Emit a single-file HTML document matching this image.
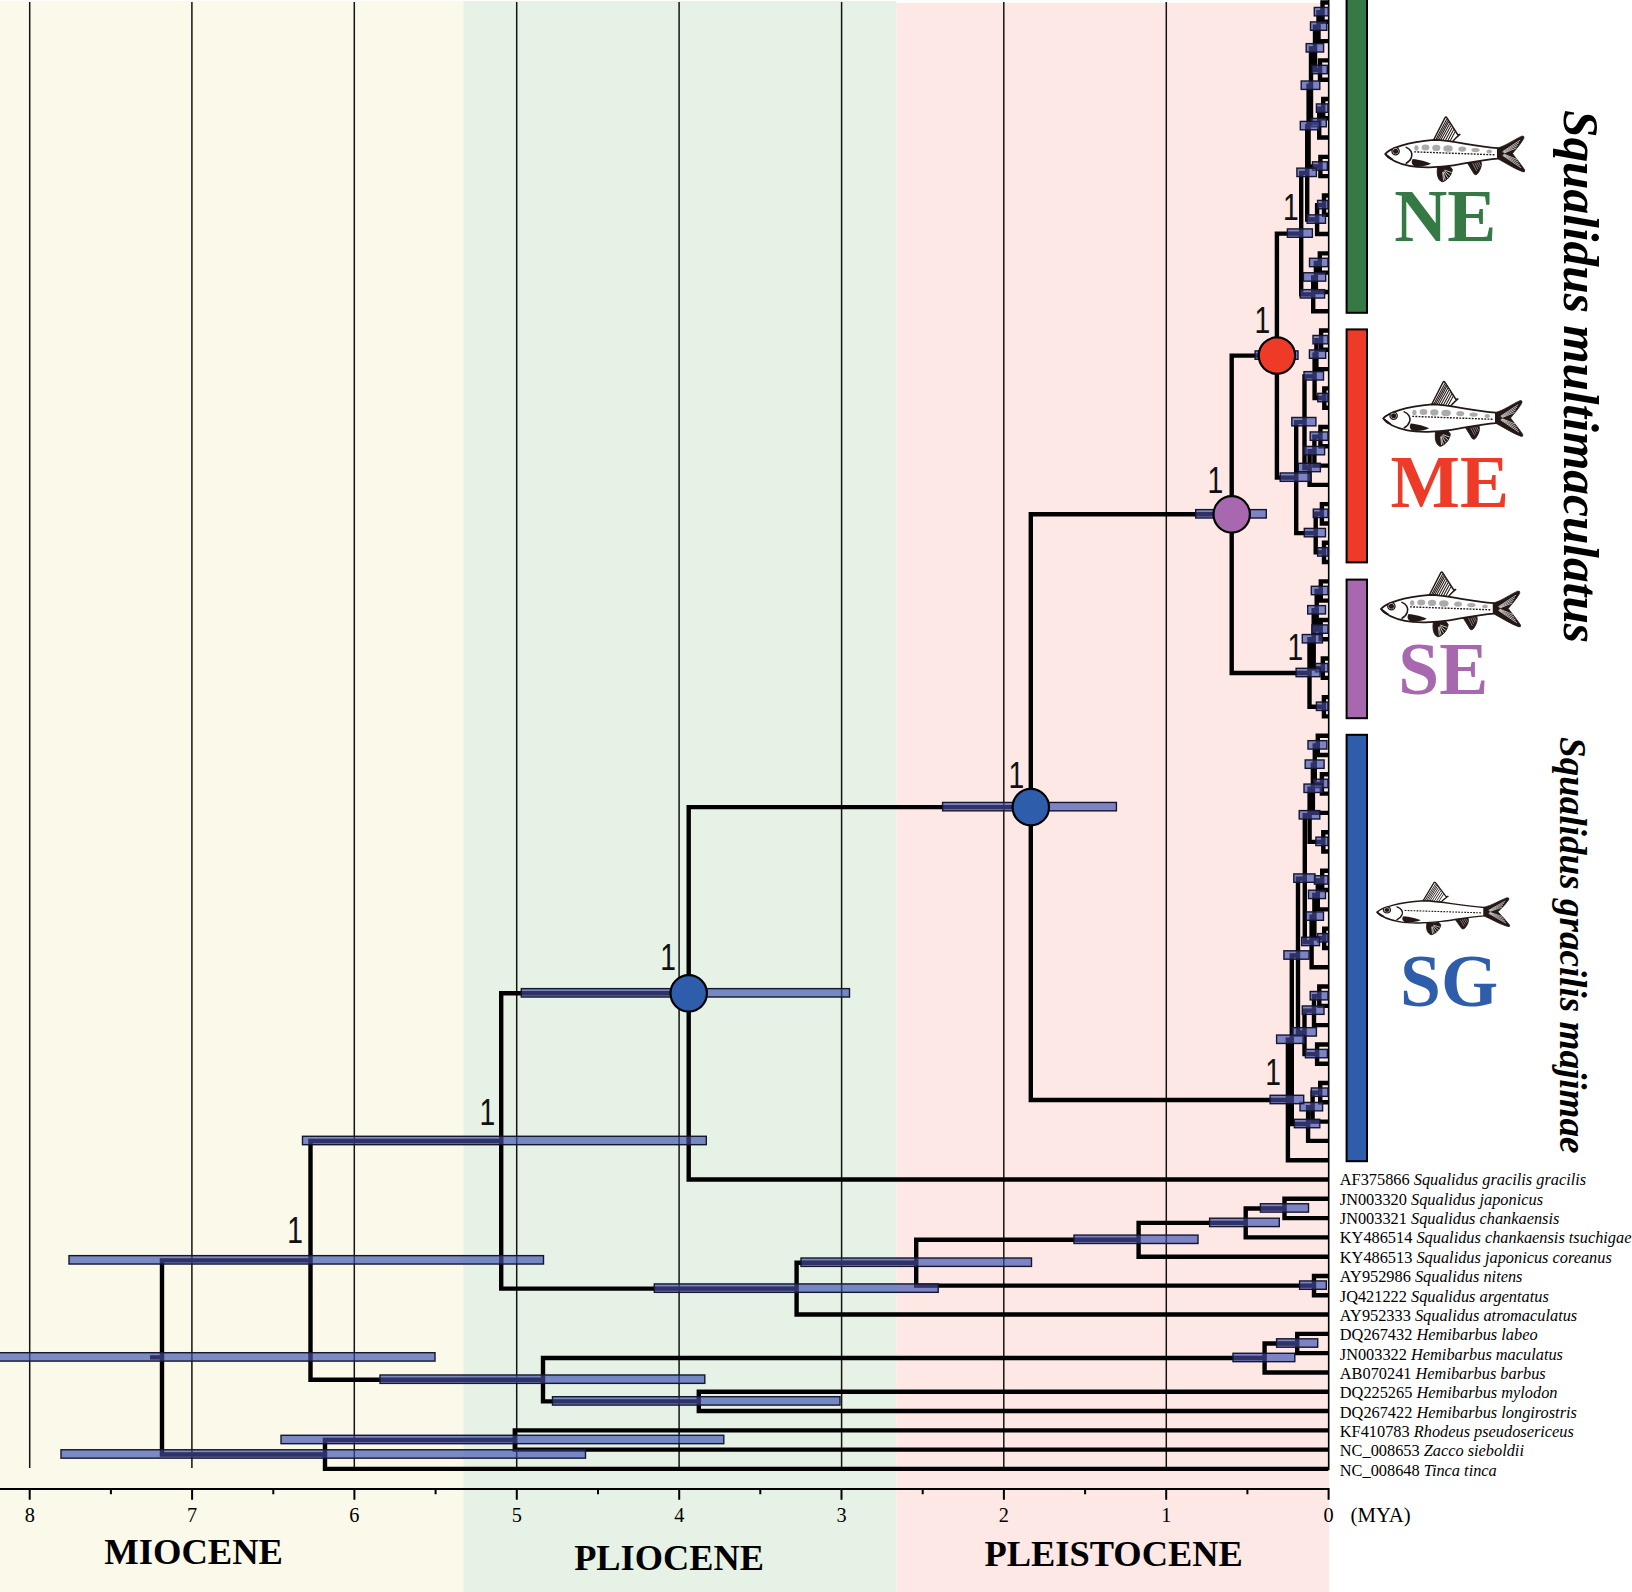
<!DOCTYPE html>
<html><head><meta charset="utf-8"><title>Squalidus time tree</title>
<style>html,body{margin:0;padding:0;background:#fff}svg{display:block}</style></head>
<body>
<svg width="1632" height="1592" viewBox="0 0 1632 1592">
<rect x="0" y="1" width="463.3" height="1591" fill="#fbf9ea"/>
<rect x="463.3" y="1" width="432.9" height="1591" fill="#e7f2e6"/>
<rect x="896.2" y="3" width="432.8" height="1589" fill="#fde8e6"/>
<path d="M29.7 2V1468M191.9 2V1468M354.3 2V1468M516.7 2V1468M679.1 2V1468M841.6 2V1468M1003.8 2V1468M1166.3 2V1468" stroke="#141414" stroke-width="1.5" fill="none"/>
<path d="M1328.7 0V1470" stroke="#000" stroke-width="1.6" fill="none"/>
<g font-family="'Liberation Sans', sans-serif" font-size="36.2" fill="#111"><text transform="translate(1283.10,219.8) scale(0.78,1)">1</text><text transform="translate(1254.50,332.8) scale(0.78,1)">1</text><text transform="translate(1207.40,492.6) scale(0.78,1)">1</text><text transform="translate(1287.60,659.9) scale(0.78,1)">1</text><text transform="translate(1008.50,788.0) scale(0.78,1)">1</text><text transform="translate(660.30,969.7) scale(0.78,1)">1</text><text transform="translate(1265.30,1084.5) scale(0.78,1)">1</text><text transform="translate(479.60,1124.5) scale(0.78,1)">1</text><text transform="translate(287.30,1243.3) scale(0.78,1)">1</text></g>
<path d="M1328.4 2.50H1322.5V21.80H1328.4M1322.5 12.15H1318.5V41.09H1328.4M1328.4 60.39H1320.0V79.68H1328.4M1318.5 26.62H1315.0V70.03H1320.0M1328.4 98.98H1323.2V118.27H1328.4M1323.2 108.62H1319.2V137.56H1328.4M1315.0 48.33H1311.0V123.09H1319.2M1328.4 156.86H1320.4V176.16H1328.4M1311.0 85.71H1308.6V166.51H1320.4M1328.4 195.45H1324.0V214.75H1328.4M1324.0 205.10H1317.1V234.04H1328.4M1308.6 126.11H1307.2V219.57H1317.1M1328.4 253.34H1319.8V272.63H1328.4M1319.8 262.98H1315.9V291.93H1328.4M1315.9 277.45H1313.2V311.22H1328.4M1307.2 172.84H1301.2V294.34H1313.2M1328.4 330.52H1321.1V349.81H1328.4M1321.1 340.16H1316.4V369.11H1328.4M1328.4 388.40H1324.3V407.70H1328.4M1316.4 354.63H1314.6V398.05H1324.3M1328.4 426.99H1320.4V446.29H1328.4M1320.4 436.64H1314.4V465.58H1328.4M1314.4 451.11H1309.6V484.88H1328.4M1314.6 376.34H1304.5V467.99H1309.6M1328.4 504.17H1321.9V523.47H1328.4M1328.4 542.76H1324.0V562.06H1328.4M1321.9 513.82H1315.7V552.41H1324.0M1304.5 422.17H1296.2V533.11H1315.7M1328.4 581.35H1320.8V600.65H1328.4M1328.4 619.94H1320.7V639.24H1328.4M1320.8 591.00H1316.7V629.59H1320.7M1328.4 658.53H1322.8V677.83H1328.4M1316.7 610.29H1313.7V668.18H1322.8M1328.4 697.12H1323.9V716.42H1328.4M1313.7 639.24H1309.5V706.77H1323.9M1328.4 735.71H1317.8V755.01H1328.4M1328.4 774.30H1321.9V793.60H1328.4M1317.8 745.36H1314.8V783.95H1321.9M1314.8 764.65H1312.9V812.89H1328.4M1328.4 832.19H1323.3V851.48H1328.4M1312.9 788.77H1309.6V841.83H1323.3M1328.4 870.78H1322.2V890.07H1328.4M1322.2 880.42H1317.8V909.37H1328.4M1328.4 928.66H1324.2V947.96H1328.4M1317.8 894.89H1314.4V938.31H1324.2M1314.4 916.60H1311.6V967.25H1328.4M1309.6 815.30H1304.8V941.93H1311.6M1328.4 986.55H1319.3V1005.84H1328.4M1319.3 996.19H1314.0V1025.14H1328.4M1328.4 1044.43H1317.1V1063.73H1328.4M1314.0 1010.66H1304.5V1054.08H1317.1M1304.8 878.61H1298.0V1032.37H1304.5M1328.4 1083.02H1320.2V1102.32H1328.4M1320.2 1092.67H1312.6V1121.61H1328.4M1312.6 1107.14H1308.1V1140.91H1328.4M1298.0 955.49H1291.8V1124.02H1308.1M1291.8 1039.76H1287.9V1160.20H1328.4M1301.2 233.59H1276.9V477.64H1296.2M1276.9 355.61H1231.7V673.00H1309.5M1231.7 514.31H1030.8V1099.98H1287.9M1030.8 807.14H688.7V1179.50H1328.4M1328.4 1198.79H1284.5V1218.09H1328.4M1284.5 1208.44H1245.7V1237.38H1328.4M1245.7 1222.91H1138.6V1256.68H1328.4M1328.4 1275.97H1314.0V1295.27H1328.4M1138.6 1239.79H916.2V1285.62H1314.0M916.2 1262.70H796.6V1314.56H1328.4M688.7 993.32H501.2V1288.63H796.6M1328.4 1333.86H1297.2V1353.15H1328.4M1297.2 1343.50H1264.6V1372.45H1328.4M1328.4 1391.74H698.8V1411.04H1328.4M1264.6 1357.97H543.0V1401.39H698.8M501.2 1140.98H310.5V1379.68H543.0M1328.4 1430.33H514.8V1449.63H1328.4M514.8 1439.98H325.0V1468.92H1328.4M310.5 1260.33H162.0V1454.45H325.0M150 1357.39H162" stroke="#000" stroke-width="4.4" fill="none" stroke-linejoin="miter" stroke-linecap="butt"/>
<g fill="#3a50b0" fill-opacity="0.66" stroke="#15172f" stroke-width="1.4"><rect x="1314.3" y="7.45" width="14.0" height="8.4"/><rect x="1310.5" y="21.92" width="16.3" height="8.4"/><rect x="1312.0" y="65.33" width="15.3" height="8.4"/><rect x="1306.2" y="43.63" width="17.4" height="8.4"/><rect x="1316.4" y="103.92" width="11.6" height="8.4"/><rect x="1311.0" y="118.39" width="15.3" height="8.4"/><rect x="1301.2" y="81.01" width="18.6" height="8.4"/><rect x="1312.5" y="161.81" width="14.9" height="8.4"/><rect x="1300.3" y="121.41" width="19.2" height="8.4"/><rect x="1317.6" y="200.40" width="10.4" height="8.4"/><rect x="1307.1" y="214.87" width="18.4" height="8.4"/><rect x="1296.9" y="168.14" width="19.5" height="8.4"/><rect x="1309.5" y="258.28" width="18.5" height="8.4"/><rect x="1303.4" y="272.75" width="22.3" height="8.4"/><rect x="1300.3" y="289.64" width="24.3" height="8.4"/><rect x="1287.4" y="228.89" width="25.0" height="8.4"/><rect x="1313.0" y="335.46" width="15.0" height="8.4"/><rect x="1309.4" y="349.93" width="16.3" height="8.4"/><rect x="1317.8" y="393.35" width="10.2" height="8.4"/><rect x="1304.0" y="371.64" width="19.5" height="8.4"/><rect x="1310.2" y="431.94" width="17.8" height="8.4"/><rect x="1304.0" y="446.41" width="20.6" height="8.4"/><rect x="1298.3" y="463.29" width="22.1" height="8.4"/><rect x="1291.8" y="417.47" width="24.1" height="8.4"/><rect x="1313.3" y="509.12" width="14.7" height="8.4"/><rect x="1317.6" y="547.71" width="10.4" height="8.4"/><rect x="1304.3" y="528.41" width="21.2" height="8.4"/><rect x="1280.2" y="472.94" width="30.6" height="8.4"/><rect x="1311.3" y="586.30" width="16.7" height="8.4"/><rect x="1311.9" y="624.89" width="16.1" height="8.4"/><rect x="1307.7" y="605.59" width="17.8" height="8.4"/><rect x="1315.6" y="663.48" width="12.4" height="8.4"/><rect x="1302.3" y="634.53" width="20.1" height="8.4"/><rect x="1316.4" y="702.07" width="11.6" height="8.4"/><rect x="1296.1" y="668.30" width="24.0" height="8.4"/><rect x="1308.0" y="740.66" width="18.9" height="8.4"/><rect x="1313.7" y="779.25" width="14.3" height="8.4"/><rect x="1305.2" y="759.95" width="18.9" height="8.4"/><rect x="1304.0" y="784.07" width="18.5" height="8.4"/><rect x="1315.9" y="837.13" width="12.1" height="8.4"/><rect x="1299.2" y="810.60" width="20.6" height="8.4"/><rect x="1314.4" y="875.72" width="13.6" height="8.4"/><rect x="1308.5" y="890.19" width="17.0" height="8.4"/><rect x="1317.6" y="933.61" width="10.4" height="8.4"/><rect x="1306.2" y="911.90" width="17.3" height="8.4"/><rect x="1301.7" y="937.23" width="17.8" height="8.4"/><rect x="1293.8" y="873.91" width="21.2" height="8.4"/><rect x="1310.2" y="991.49" width="17.8" height="8.4"/><rect x="1302.3" y="1005.96" width="21.7" height="8.4"/><rect x="1305.4" y="1049.38" width="22.0" height="8.4"/><rect x="1292.1" y="1027.67" width="24.3" height="8.4"/><rect x="1283.9" y="950.79" width="25.2" height="8.4"/><rect x="1311.3" y="1087.97" width="16.7" height="8.4"/><rect x="1300.0" y="1102.44" width="22.6" height="8.4"/><rect x="1294.4" y="1119.32" width="25.4" height="8.4"/><rect x="1276.6" y="1035.06" width="27.9" height="8.4"/><rect x="1270.1" y="1095.28" width="33.6" height="8.4"/><rect x="1255.1" y="350.91" width="42.9" height="8.4"/><rect x="1195.7" y="509.61" width="70.6" height="8.4"/><rect x="942.6" y="802.44" width="173.8" height="8.4"/><rect x="521.3" y="988.62" width="328.2" height="8.4"/><rect x="1260.4" y="1203.74" width="48.1" height="8.4"/><rect x="1209.6" y="1218.21" width="69.7" height="8.4"/><rect x="1074.0" y="1235.09" width="124.0" height="8.4"/><rect x="1299.6" y="1280.92" width="26.7" height="8.4"/><rect x="801.0" y="1258.00" width="230.5" height="8.4"/><rect x="654.3" y="1283.93" width="283.9" height="8.4"/><rect x="302.5" y="1136.28" width="403.8" height="8.4"/><rect x="1276.6" y="1338.80" width="41.1" height="8.4"/><rect x="1233.0" y="1353.27" width="61.8" height="8.4"/><rect x="552.5" y="1396.69" width="287.5" height="8.4"/><rect x="380.0" y="1374.98" width="324.8" height="8.4"/><rect x="69.0" y="1255.63" width="474.5" height="8.4"/><rect x="281.0" y="1435.28" width="442.8" height="8.4"/><rect x="61.0" y="1449.75" width="524.5" height="8.4"/><rect x="-6.0" y="1352.69" width="441.0" height="8.4"/></g>
<clipPath id="barclip"><rect x="1315.0" y="8.15" width="12.6" height="7.0"/><rect x="1311.2" y="22.62" width="14.9" height="7.0"/><rect x="1312.7" y="66.03" width="13.9" height="7.0"/><rect x="1306.9" y="44.33" width="16.0" height="7.0"/><rect x="1317.1" y="104.62" width="10.2" height="7.0"/><rect x="1311.7" y="119.09" width="13.9" height="7.0"/><rect x="1301.9" y="81.71" width="17.2" height="7.0"/><rect x="1313.2" y="162.51" width="13.5" height="7.0"/><rect x="1301.0" y="122.11" width="17.8" height="7.0"/><rect x="1318.3" y="201.10" width="9.0" height="7.0"/><rect x="1307.8" y="215.57" width="17.0" height="7.0"/><rect x="1297.6" y="168.84" width="18.1" height="7.0"/><rect x="1310.2" y="258.98" width="17.1" height="7.0"/><rect x="1304.1" y="273.45" width="20.9" height="7.0"/><rect x="1301.0" y="290.34" width="22.9" height="7.0"/><rect x="1288.1" y="229.59" width="23.6" height="7.0"/><rect x="1313.7" y="336.16" width="13.6" height="7.0"/><rect x="1310.1" y="350.63" width="14.9" height="7.0"/><rect x="1318.5" y="394.05" width="8.8" height="7.0"/><rect x="1304.7" y="372.34" width="18.1" height="7.0"/><rect x="1310.9" y="432.64" width="16.4" height="7.0"/><rect x="1304.7" y="447.11" width="19.2" height="7.0"/><rect x="1299.0" y="463.99" width="20.7" height="7.0"/><rect x="1292.5" y="418.17" width="22.7" height="7.0"/><rect x="1314.0" y="509.82" width="13.3" height="7.0"/><rect x="1318.3" y="548.41" width="9.0" height="7.0"/><rect x="1305.0" y="529.11" width="19.8" height="7.0"/><rect x="1280.9" y="473.64" width="29.2" height="7.0"/><rect x="1312.0" y="587.00" width="15.3" height="7.0"/><rect x="1312.6" y="625.59" width="14.7" height="7.0"/><rect x="1308.4" y="606.29" width="16.4" height="7.0"/><rect x="1316.3" y="664.18" width="11.0" height="7.0"/><rect x="1303.0" y="635.24" width="18.7" height="7.0"/><rect x="1317.1" y="702.77" width="10.2" height="7.0"/><rect x="1296.8" y="669.00" width="22.6" height="7.0"/><rect x="1308.7" y="741.36" width="17.5" height="7.0"/><rect x="1314.4" y="779.95" width="12.9" height="7.0"/><rect x="1305.9" y="760.65" width="17.5" height="7.0"/><rect x="1304.7" y="784.77" width="17.1" height="7.0"/><rect x="1316.6" y="837.83" width="10.7" height="7.0"/><rect x="1299.9" y="811.30" width="19.2" height="7.0"/><rect x="1315.1" y="876.42" width="12.2" height="7.0"/><rect x="1309.2" y="890.89" width="15.6" height="7.0"/><rect x="1318.3" y="934.31" width="9.0" height="7.0"/><rect x="1306.9" y="912.60" width="15.9" height="7.0"/><rect x="1302.4" y="937.93" width="16.4" height="7.0"/><rect x="1294.5" y="874.61" width="19.8" height="7.0"/><rect x="1310.9" y="992.19" width="16.4" height="7.0"/><rect x="1303.0" y="1006.66" width="20.3" height="7.0"/><rect x="1306.1" y="1050.08" width="20.6" height="7.0"/><rect x="1292.8" y="1028.37" width="22.9" height="7.0"/><rect x="1284.6" y="951.49" width="23.8" height="7.0"/><rect x="1312.0" y="1088.67" width="15.3" height="7.0"/><rect x="1300.7" y="1103.14" width="21.2" height="7.0"/><rect x="1295.1" y="1120.02" width="24.0" height="7.0"/><rect x="1277.3" y="1035.76" width="26.5" height="7.0"/><rect x="1270.8" y="1095.98" width="32.2" height="7.0"/><rect x="1255.8" y="351.61" width="41.5" height="7.0"/><rect x="1196.4" y="510.31" width="69.2" height="7.0"/><rect x="943.3" y="803.14" width="172.4" height="7.0"/><rect x="522.0" y="989.32" width="326.8" height="7.0"/><rect x="1261.1" y="1204.44" width="46.7" height="7.0"/><rect x="1210.3" y="1218.91" width="68.3" height="7.0"/><rect x="1074.7" y="1235.79" width="122.6" height="7.0"/><rect x="1300.3" y="1281.62" width="25.3" height="7.0"/><rect x="801.7" y="1258.70" width="229.1" height="7.0"/><rect x="655.0" y="1284.63" width="282.5" height="7.0"/><rect x="303.2" y="1136.98" width="402.4" height="7.0"/><rect x="1277.3" y="1339.50" width="39.7" height="7.0"/><rect x="1233.7" y="1353.97" width="60.4" height="7.0"/><rect x="553.2" y="1397.39" width="286.1" height="7.0"/><rect x="380.7" y="1375.68" width="323.4" height="7.0"/><rect x="69.7" y="1256.33" width="473.1" height="7.0"/><rect x="281.7" y="1435.98" width="441.4" height="7.0"/><rect x="61.7" y="1450.45" width="523.1" height="7.0"/><rect x="-5.3" y="1353.39" width="439.6" height="7.0"/></clipPath>
<path d="M1328.4 2.50H1322.5V21.80H1328.4M1322.5 12.15H1318.5V41.09H1328.4M1328.4 60.39H1320.0V79.68H1328.4M1318.5 26.62H1315.0V70.03H1320.0M1328.4 98.98H1323.2V118.27H1328.4M1323.2 108.62H1319.2V137.56H1328.4M1315.0 48.33H1311.0V123.09H1319.2M1328.4 156.86H1320.4V176.16H1328.4M1311.0 85.71H1308.6V166.51H1320.4M1328.4 195.45H1324.0V214.75H1328.4M1324.0 205.10H1317.1V234.04H1328.4M1308.6 126.11H1307.2V219.57H1317.1M1328.4 253.34H1319.8V272.63H1328.4M1319.8 262.98H1315.9V291.93H1328.4M1315.9 277.45H1313.2V311.22H1328.4M1307.2 172.84H1301.2V294.34H1313.2M1328.4 330.52H1321.1V349.81H1328.4M1321.1 340.16H1316.4V369.11H1328.4M1328.4 388.40H1324.3V407.70H1328.4M1316.4 354.63H1314.6V398.05H1324.3M1328.4 426.99H1320.4V446.29H1328.4M1320.4 436.64H1314.4V465.58H1328.4M1314.4 451.11H1309.6V484.88H1328.4M1314.6 376.34H1304.5V467.99H1309.6M1328.4 504.17H1321.9V523.47H1328.4M1328.4 542.76H1324.0V562.06H1328.4M1321.9 513.82H1315.7V552.41H1324.0M1304.5 422.17H1296.2V533.11H1315.7M1328.4 581.35H1320.8V600.65H1328.4M1328.4 619.94H1320.7V639.24H1328.4M1320.8 591.00H1316.7V629.59H1320.7M1328.4 658.53H1322.8V677.83H1328.4M1316.7 610.29H1313.7V668.18H1322.8M1328.4 697.12H1323.9V716.42H1328.4M1313.7 639.24H1309.5V706.77H1323.9M1328.4 735.71H1317.8V755.01H1328.4M1328.4 774.30H1321.9V793.60H1328.4M1317.8 745.36H1314.8V783.95H1321.9M1314.8 764.65H1312.9V812.89H1328.4M1328.4 832.19H1323.3V851.48H1328.4M1312.9 788.77H1309.6V841.83H1323.3M1328.4 870.78H1322.2V890.07H1328.4M1322.2 880.42H1317.8V909.37H1328.4M1328.4 928.66H1324.2V947.96H1328.4M1317.8 894.89H1314.4V938.31H1324.2M1314.4 916.60H1311.6V967.25H1328.4M1309.6 815.30H1304.8V941.93H1311.6M1328.4 986.55H1319.3V1005.84H1328.4M1319.3 996.19H1314.0V1025.14H1328.4M1328.4 1044.43H1317.1V1063.73H1328.4M1314.0 1010.66H1304.5V1054.08H1317.1M1304.8 878.61H1298.0V1032.37H1304.5M1328.4 1083.02H1320.2V1102.32H1328.4M1320.2 1092.67H1312.6V1121.61H1328.4M1312.6 1107.14H1308.1V1140.91H1328.4M1298.0 955.49H1291.8V1124.02H1308.1M1291.8 1039.76H1287.9V1160.20H1328.4M1301.2 233.59H1276.9V477.64H1296.2M1276.9 355.61H1231.7V673.00H1309.5M1231.7 514.31H1030.8V1099.98H1287.9M1030.8 807.14H688.7V1179.50H1328.4M1328.4 1198.79H1284.5V1218.09H1328.4M1284.5 1208.44H1245.7V1237.38H1328.4M1245.7 1222.91H1138.6V1256.68H1328.4M1328.4 1275.97H1314.0V1295.27H1328.4M1138.6 1239.79H916.2V1285.62H1314.0M916.2 1262.70H796.6V1314.56H1328.4M688.7 993.32H501.2V1288.63H796.6M1328.4 1333.86H1297.2V1353.15H1328.4M1297.2 1343.50H1264.6V1372.45H1328.4M1328.4 1391.74H698.8V1411.04H1328.4M1264.6 1357.97H543.0V1401.39H698.8M501.2 1140.98H310.5V1379.68H543.0M1328.4 1430.33H514.8V1449.63H1328.4M514.8 1439.98H325.0V1468.92H1328.4M310.5 1260.33H162.0V1454.45H325.0M150 1357.39H162" stroke="#4e293c" stroke-opacity="0.25" stroke-width="4.4" fill="none" clip-path="url(#barclip)"/>
<circle cx="688.7" cy="993.32" r="18.2" fill="#2d5dab" stroke="#000" stroke-width="2.2"/><circle cx="1030.8" cy="807.14" r="18.2" fill="#2d5dab" stroke="#000" stroke-width="2.2"/><circle cx="1231.7" cy="514.31" r="18.2" fill="#a868b0" stroke="#000" stroke-width="2.2"/><circle cx="1276.9" cy="355.61" r="18.2" fill="#ee3b28" stroke="#000" stroke-width="2.2"/>
<path d="M0 1488.9H1329.6M1328.6 1488.9V1499.8M1166.2 1488.9V1499.8M1003.9 1488.9V1499.8M841.5 1488.9V1499.8M679.2 1488.9V1499.8M516.8 1488.9V1499.8M354.4 1488.9V1499.8M192.1 1488.9V1499.8M29.7 1488.9V1499.8M1247.4 1488.9V1494.2M1085.1 1488.9V1494.2M922.7 1488.9V1494.2M760.3 1488.9V1494.2M598.0 1488.9V1494.2M435.6 1488.9V1494.2M273.3 1488.9V1494.2M110.9 1488.9V1494.2" stroke="#000" stroke-width="2" fill="none"/>
<g font-family="'Liberation Serif', serif" font-size="20.3" text-anchor="middle" fill="#000"><text x="1328.6" y="1522.3">0</text><text x="1166.2" y="1522.3">1</text><text x="1003.9" y="1522.3">2</text><text x="841.5" y="1522.3">3</text><text x="679.2" y="1522.3">4</text><text x="516.8" y="1522.3">5</text><text x="354.4" y="1522.3">6</text><text x="192.1" y="1522.3">7</text><text x="29.7" y="1522.3">8</text></g>
<text x="1350.6" y="1522.3" font-family="'Liberation Serif', serif" font-size="20.8" fill="#000">(MYA)</text>
<g font-family="'Liberation Serif', serif" font-weight="bold" font-size="36.5" fill="#000"><text x="104.2" y="1563.9" textLength="178.8" lengthAdjust="spacingAndGlyphs">MIOCENE</text><text x="574.2" y="1569.6" textLength="189.7" lengthAdjust="spacingAndGlyphs">PLIOCENE</text><text x="984.4" y="1565.9" textLength="258.5" lengthAdjust="spacingAndGlyphs">PLEISTOCENE</text></g>
<rect x="1346.6" y="-2" width="20.4" height="314.8" fill="#357a44" stroke="#000" stroke-width="2"/><rect x="1346.6" y="329.4" width="20.4" height="233.0" fill="#ee3b28" stroke="#000" stroke-width="2"/><rect x="1346.6" y="579.6" width="20.4" height="138.60000000000002" fill="#a868b0" stroke="#000" stroke-width="2"/><rect x="1346.6" y="734.8" width="20.4" height="426.4000000000001" fill="#2d5dab" stroke="#000" stroke-width="2"/>
<g font-family="'Liberation Serif', serif" font-weight="bold" font-size="73.5"><text x="1394.2" y="241.1" fill="#357a44">NE</text><text x="1390.6" y="507.0" fill="#ee3b28">ME</text><text x="1398.3" y="693.6" fill="#a868b0">SE</text><text x="1400.0" y="1005.5" fill="#2d5dab">SG</text></g>
<g font-family="'Liberation Serif', serif" font-weight="bold" font-style="italic" fill="#000"><text transform="translate(1563.5,110) rotate(90)" font-size="50" textLength="533" lengthAdjust="spacingAndGlyphs">Squalidus multimaculatus</text><text transform="translate(1560.2,737) rotate(90)" font-size="38" textLength="416.5" lengthAdjust="spacingAndGlyphs">Squalidus gracilis majimae</text></g>
<g font-family="'Liberation Serif', serif" font-size="16.33" fill="#000"><text x="1339.8" y="1185.4">AF375866 <tspan font-style="italic">Squalidus gracilis gracilis</tspan></text><text x="1339.8" y="1204.7">JN003320 <tspan font-style="italic">Squalidus japonicus</tspan></text><text x="1339.8" y="1224.1">JN003321 <tspan font-style="italic">Squalidus chankaensis</tspan></text><text x="1339.8" y="1243.4">KY486514 <tspan font-style="italic">Squalidus chankaensis tsuchigae</tspan></text><text x="1339.8" y="1262.8">KY486513 <tspan font-style="italic">Squalidus japonicus coreanus</tspan></text><text x="1339.8" y="1282.1">AY952986 <tspan font-style="italic">Squalidus nitens</tspan></text><text x="1339.8" y="1301.5">JQ421222 <tspan font-style="italic">Squalidus argentatus</tspan></text><text x="1339.8" y="1320.8">AY952333 <tspan font-style="italic">Squalidus atromaculatus</tspan></text><text x="1339.8" y="1340.2">DQ267432 <tspan font-style="italic">Hemibarbus labeo</tspan></text><text x="1339.8" y="1359.5">JN003322 <tspan font-style="italic">Hemibarbus maculatus</tspan></text><text x="1339.8" y="1378.9">AB070241 <tspan font-style="italic">Hemibarbus barbus</tspan></text><text x="1339.8" y="1398.2">DQ225265 <tspan font-style="italic">Hemibarbus mylodon</tspan></text><text x="1339.8" y="1417.6">DQ267422 <tspan font-style="italic">Hemibarbus longirostris</tspan></text><text x="1339.8" y="1436.9">KF410783 <tspan font-style="italic">Rhodeus pseudosericeus</tspan></text><text x="1339.8" y="1456.3">NC_008653 <tspan font-style="italic">Zacco sieboldii</tspan></text><text x="1339.8" y="1475.6">NC_008648 <tspan font-style="italic">Tinca tinca</tspan></text></g>
<g transform="translate(1375.00,105.00) scale(0.09804,0.09804)"><g><path d="M1250 438 C1330 420 1430 345 1498 318 Q1528 312 1516 345 C1485 400 1435 455 1402 495 C1440 545 1500 620 1527 662 Q1534 690 1506 680 C1420 650 1325 585 1250 547 Z" fill="#231815" stroke="#231815" stroke-width="8" stroke-linejoin="round"/><path d="M1305 474L1477 361M1305 516L1486 637M1311 479L1465 387M1311 512L1473 610M1316 484L1452 413M1316 508L1460 582M1322 488L1440 439M1322 504L1446 555" stroke="#fff" stroke-width="7" fill="none" stroke-linecap="round"/><path d="M600 352 L716 126 Q724 116 734 132 L846 306 L866 300 Q822 336 790 374 Z" fill="#fff" stroke="#231815" stroke-width="15" stroke-linejoin="round"/><path d="M619 354L733 143M635 355L743 158M652 357L752 172M670 359L763 189M692 362L775 208M716 364L789 229M740 367L803 251M764 369L817 272" stroke="#231815" stroke-width="10.5" fill="none"/><path d="M640 628 C626 700 640 768 684 784 C735 775 790 705 787 655 L760 622 Z" fill="#231815" stroke="#231815" stroke-width="10" stroke-linejoin="round"/><path d="M691 689L699 767M696 686L716 760M704 680L740 740M710 673L761 716M715 665L778 688" stroke="#fff" stroke-width="7.5" fill="none" stroke-linecap="round"/><path d="M943 592 L1012 704 Q1028 720 1045 702 C1080 655 1095 605 1078 570 Z" fill="#231815" stroke="#231815" stroke-width="9" stroke-linejoin="round"/><path d="M996 594L1036 673M1018 590L1050 655M1038 586L1064 637M1057 582L1077 621" stroke="#fff" stroke-width="4.5" fill="none"/><path d="M103 500 C150 440 330 378 600 356 C800 362 1000 420 1253 440 L1253 546 C1100 556 950 592 800 616 C650 640 450 642 350 622 C250 600 150 560 103 500 Z" fill="#fff" stroke="#231815" stroke-width="18" stroke-linejoin="round"/><path d="M385 550 C450 556 530 578 572 600 C520 626 440 632 400 622 C378 606 364 584 385 550 Z" fill="#231815"/><path d="M318 432 C362 450 388 490 372 532 C362 562 342 582 318 594" fill="none" stroke="#231815" stroke-width="16" stroke-linecap="round"/><circle cx="210" cy="472" r="37" fill="#fff" stroke="#231815" stroke-width="14"/><circle cx="210" cy="472" r="26" fill="#231815"/><path d="M102 496 L118 500 L186 552 Q168 572 128 538 Q104 518 102 496 Z" fill="#231815"/><path d="M400 478 L1222 508" stroke="#231815" stroke-width="14" stroke-dasharray="19 13" fill="none"/></g><g fill="#9d9d9d" opacity="0.85"><ellipse cx="422" cy="438" rx="22" ry="28"/><ellipse cx="515" cy="434" rx="40" ry="30"/><ellipse cx="625" cy="438" rx="42" ry="32"/><ellipse cx="745" cy="444" rx="48" ry="33"/><ellipse cx="890" cy="450" rx="40" ry="27"/><ellipse cx="1025" cy="460" rx="42" ry="22"/><ellipse cx="1165" cy="474" rx="28" ry="20"/></g></g><g transform="translate(1373.04,369.50) scale(0.09804,0.09804)"><g><path d="M1250 438 C1330 420 1430 345 1498 318 Q1528 312 1516 345 C1485 400 1435 455 1402 495 C1440 545 1500 620 1527 662 Q1534 690 1506 680 C1420 650 1325 585 1250 547 Z" fill="#231815" stroke="#231815" stroke-width="8" stroke-linejoin="round"/><path d="M1305 474L1477 361M1305 516L1486 637M1311 479L1465 387M1311 512L1473 610M1316 484L1452 413M1316 508L1460 582M1322 488L1440 439M1322 504L1446 555" stroke="#fff" stroke-width="7" fill="none" stroke-linecap="round"/><path d="M600 352 L716 126 Q724 116 734 132 L846 306 L866 300 Q822 336 790 374 Z" fill="#fff" stroke="#231815" stroke-width="15" stroke-linejoin="round"/><path d="M619 354L733 143M635 355L743 158M652 357L752 172M670 359L763 189M692 362L775 208M716 364L789 229M740 367L803 251M764 369L817 272" stroke="#231815" stroke-width="10.5" fill="none"/><path d="M640 628 C626 700 640 768 684 784 C735 775 790 705 787 655 L760 622 Z" fill="#231815" stroke="#231815" stroke-width="10" stroke-linejoin="round"/><path d="M691 689L699 767M696 686L716 760M704 680L740 740M710 673L761 716M715 665L778 688" stroke="#fff" stroke-width="7.5" fill="none" stroke-linecap="round"/><path d="M943 592 L1012 704 Q1028 720 1045 702 C1080 655 1095 605 1078 570 Z" fill="#231815" stroke="#231815" stroke-width="9" stroke-linejoin="round"/><path d="M996 594L1036 673M1018 590L1050 655M1038 586L1064 637M1057 582L1077 621" stroke="#fff" stroke-width="4.5" fill="none"/><path d="M103 500 C150 440 330 378 600 356 C800 362 1000 420 1253 440 L1253 546 C1100 556 950 592 800 616 C650 640 450 642 350 622 C250 600 150 560 103 500 Z" fill="#fff" stroke="#231815" stroke-width="18" stroke-linejoin="round"/><path d="M385 550 C450 556 530 578 572 600 C520 626 440 632 400 622 C378 606 364 584 385 550 Z" fill="#231815"/><path d="M318 432 C362 450 388 490 372 532 C362 562 342 582 318 594" fill="none" stroke="#231815" stroke-width="16" stroke-linecap="round"/><circle cx="210" cy="472" r="37" fill="#fff" stroke="#231815" stroke-width="14"/><circle cx="210" cy="472" r="26" fill="#231815"/><path d="M102 496 L118 500 L186 552 Q168 572 128 538 Q104 518 102 496 Z" fill="#231815"/><path d="M400 478 L1222 508" stroke="#231815" stroke-width="14" stroke-dasharray="19 13" fill="none"/></g><g fill="#9d9d9d" opacity="0.85"><ellipse cx="422" cy="438" rx="22" ry="28"/><ellipse cx="515" cy="434" rx="40" ry="30"/><ellipse cx="625" cy="438" rx="42" ry="32"/><ellipse cx="745" cy="444" rx="48" ry="33"/><ellipse cx="890" cy="450" rx="40" ry="27"/><ellipse cx="1025" cy="460" rx="42" ry="22"/><ellipse cx="1165" cy="474" rx="28" ry="20"/></g></g><g transform="translate(1370.80,560.00) scale(0.09804,0.09804)"><g><path d="M1250 438 C1330 420 1430 345 1498 318 Q1528 312 1516 345 C1485 400 1435 455 1402 495 C1440 545 1500 620 1527 662 Q1534 690 1506 680 C1420 650 1325 585 1250 547 Z" fill="#231815" stroke="#231815" stroke-width="8" stroke-linejoin="round"/><path d="M1305 474L1477 361M1305 516L1486 637M1311 479L1465 387M1311 512L1473 610M1316 484L1452 413M1316 508L1460 582M1322 488L1440 439M1322 504L1446 555" stroke="#fff" stroke-width="7" fill="none" stroke-linecap="round"/><path d="M600 352 L716 126 Q724 116 734 132 L846 306 L866 300 Q822 336 790 374 Z" fill="#fff" stroke="#231815" stroke-width="15" stroke-linejoin="round"/><path d="M619 354L733 143M635 355L743 158M652 357L752 172M670 359L763 189M692 362L775 208M716 364L789 229M740 367L803 251M764 369L817 272" stroke="#231815" stroke-width="10.5" fill="none"/><path d="M640 628 C626 700 640 768 684 784 C735 775 790 705 787 655 L760 622 Z" fill="#231815" stroke="#231815" stroke-width="10" stroke-linejoin="round"/><path d="M691 689L699 767M696 686L716 760M704 680L740 740M710 673L761 716M715 665L778 688" stroke="#fff" stroke-width="7.5" fill="none" stroke-linecap="round"/><path d="M943 592 L1012 704 Q1028 720 1045 702 C1080 655 1095 605 1078 570 Z" fill="#231815" stroke="#231815" stroke-width="9" stroke-linejoin="round"/><path d="M996 594L1036 673M1018 590L1050 655M1038 586L1064 637M1057 582L1077 621" stroke="#fff" stroke-width="4.5" fill="none"/><path d="M103 500 C150 440 330 378 600 356 C800 362 1000 420 1253 440 L1253 546 C1100 556 950 592 800 616 C650 640 450 642 350 622 C250 600 150 560 103 500 Z" fill="#fff" stroke="#231815" stroke-width="18" stroke-linejoin="round"/><path d="M385 550 C450 556 530 578 572 600 C520 626 440 632 400 622 C378 606 364 584 385 550 Z" fill="#231815"/><path d="M318 432 C362 450 388 490 372 532 C362 562 342 582 318 594" fill="none" stroke="#231815" stroke-width="16" stroke-linecap="round"/><circle cx="210" cy="472" r="37" fill="#fff" stroke="#231815" stroke-width="14"/><circle cx="210" cy="472" r="26" fill="#231815"/><path d="M102 496 L118 500 L186 552 Q168 572 128 538 Q104 518 102 496 Z" fill="#231815"/><path d="M400 478 L1222 508" stroke="#231815" stroke-width="14" stroke-dasharray="19 13" fill="none"/></g><g fill="#9d9d9d" opacity="0.85"><ellipse cx="422" cy="438" rx="22" ry="28"/><ellipse cx="515" cy="434" rx="40" ry="30"/><ellipse cx="625" cy="438" rx="42" ry="32"/><ellipse cx="745" cy="444" rx="48" ry="33"/><ellipse cx="890" cy="450" rx="40" ry="27"/><ellipse cx="1025" cy="460" rx="42" ry="22"/><ellipse cx="1165" cy="474" rx="28" ry="20"/></g></g><g transform="translate(1367.40,872.50) scale(0.09314,0.07941)"><g><path d="M1250 438 C1330 420 1430 345 1498 318 Q1528 312 1516 345 C1485 400 1435 455 1402 495 C1440 545 1500 620 1527 662 Q1534 690 1506 680 C1420 650 1325 585 1250 547 Z" fill="#231815" stroke="#231815" stroke-width="8" stroke-linejoin="round"/><path d="M1305 474L1477 361M1305 516L1486 637M1311 479L1465 387M1311 512L1473 610M1316 484L1452 413M1316 508L1460 582M1322 488L1440 439M1322 504L1446 555" stroke="#fff" stroke-width="7" fill="none" stroke-linecap="round"/><path d="M600 352 L716 126 Q724 116 734 132 L846 306 L866 300 Q822 336 790 374 Z" fill="#fff" stroke="#231815" stroke-width="15" stroke-linejoin="round"/><path d="M619 354L733 143M635 355L743 158M652 357L752 172M670 359L763 189M692 362L775 208M716 364L789 229M740 367L803 251M764 369L817 272" stroke="#231815" stroke-width="10.5" fill="none"/><path d="M640 628 C626 700 640 768 684 784 C735 775 790 705 787 655 L760 622 Z" fill="#231815" stroke="#231815" stroke-width="10" stroke-linejoin="round"/><path d="M691 689L699 767M696 686L716 760M704 680L740 740M710 673L761 716M715 665L778 688" stroke="#fff" stroke-width="7.5" fill="none" stroke-linecap="round"/><path d="M943 592 L1012 704 Q1028 720 1045 702 C1080 655 1095 605 1078 570 Z" fill="#231815" stroke="#231815" stroke-width="9" stroke-linejoin="round"/><path d="M996 594L1036 673M1018 590L1050 655M1038 586L1064 637M1057 582L1077 621" stroke="#fff" stroke-width="4.5" fill="none"/><path d="M103 500 C150 440 330 378 600 356 C800 362 1000 420 1253 440 L1253 546 C1100 556 950 592 800 616 C650 640 450 642 350 622 C250 600 150 560 103 500 Z" fill="#fff" stroke="#231815" stroke-width="18" stroke-linejoin="round"/><path d="M385 550 C450 556 530 578 572 600 C520 626 440 632 400 622 C378 606 364 584 385 550 Z" fill="#231815"/><path d="M318 432 C362 450 388 490 372 532 C362 562 342 582 318 594" fill="none" stroke="#231815" stroke-width="16" stroke-linecap="round"/><circle cx="210" cy="472" r="37" fill="#fff" stroke="#231815" stroke-width="14"/><circle cx="210" cy="472" r="26" fill="#231815"/><path d="M102 496 L118 500 L186 552 Q168 572 128 538 Q104 518 102 496 Z" fill="#231815"/><path d="M400 478 L1222 508" stroke="#231815" stroke-width="14" stroke-dasharray="19 13" fill="none"/></g></g>
</svg>
</body></html>
